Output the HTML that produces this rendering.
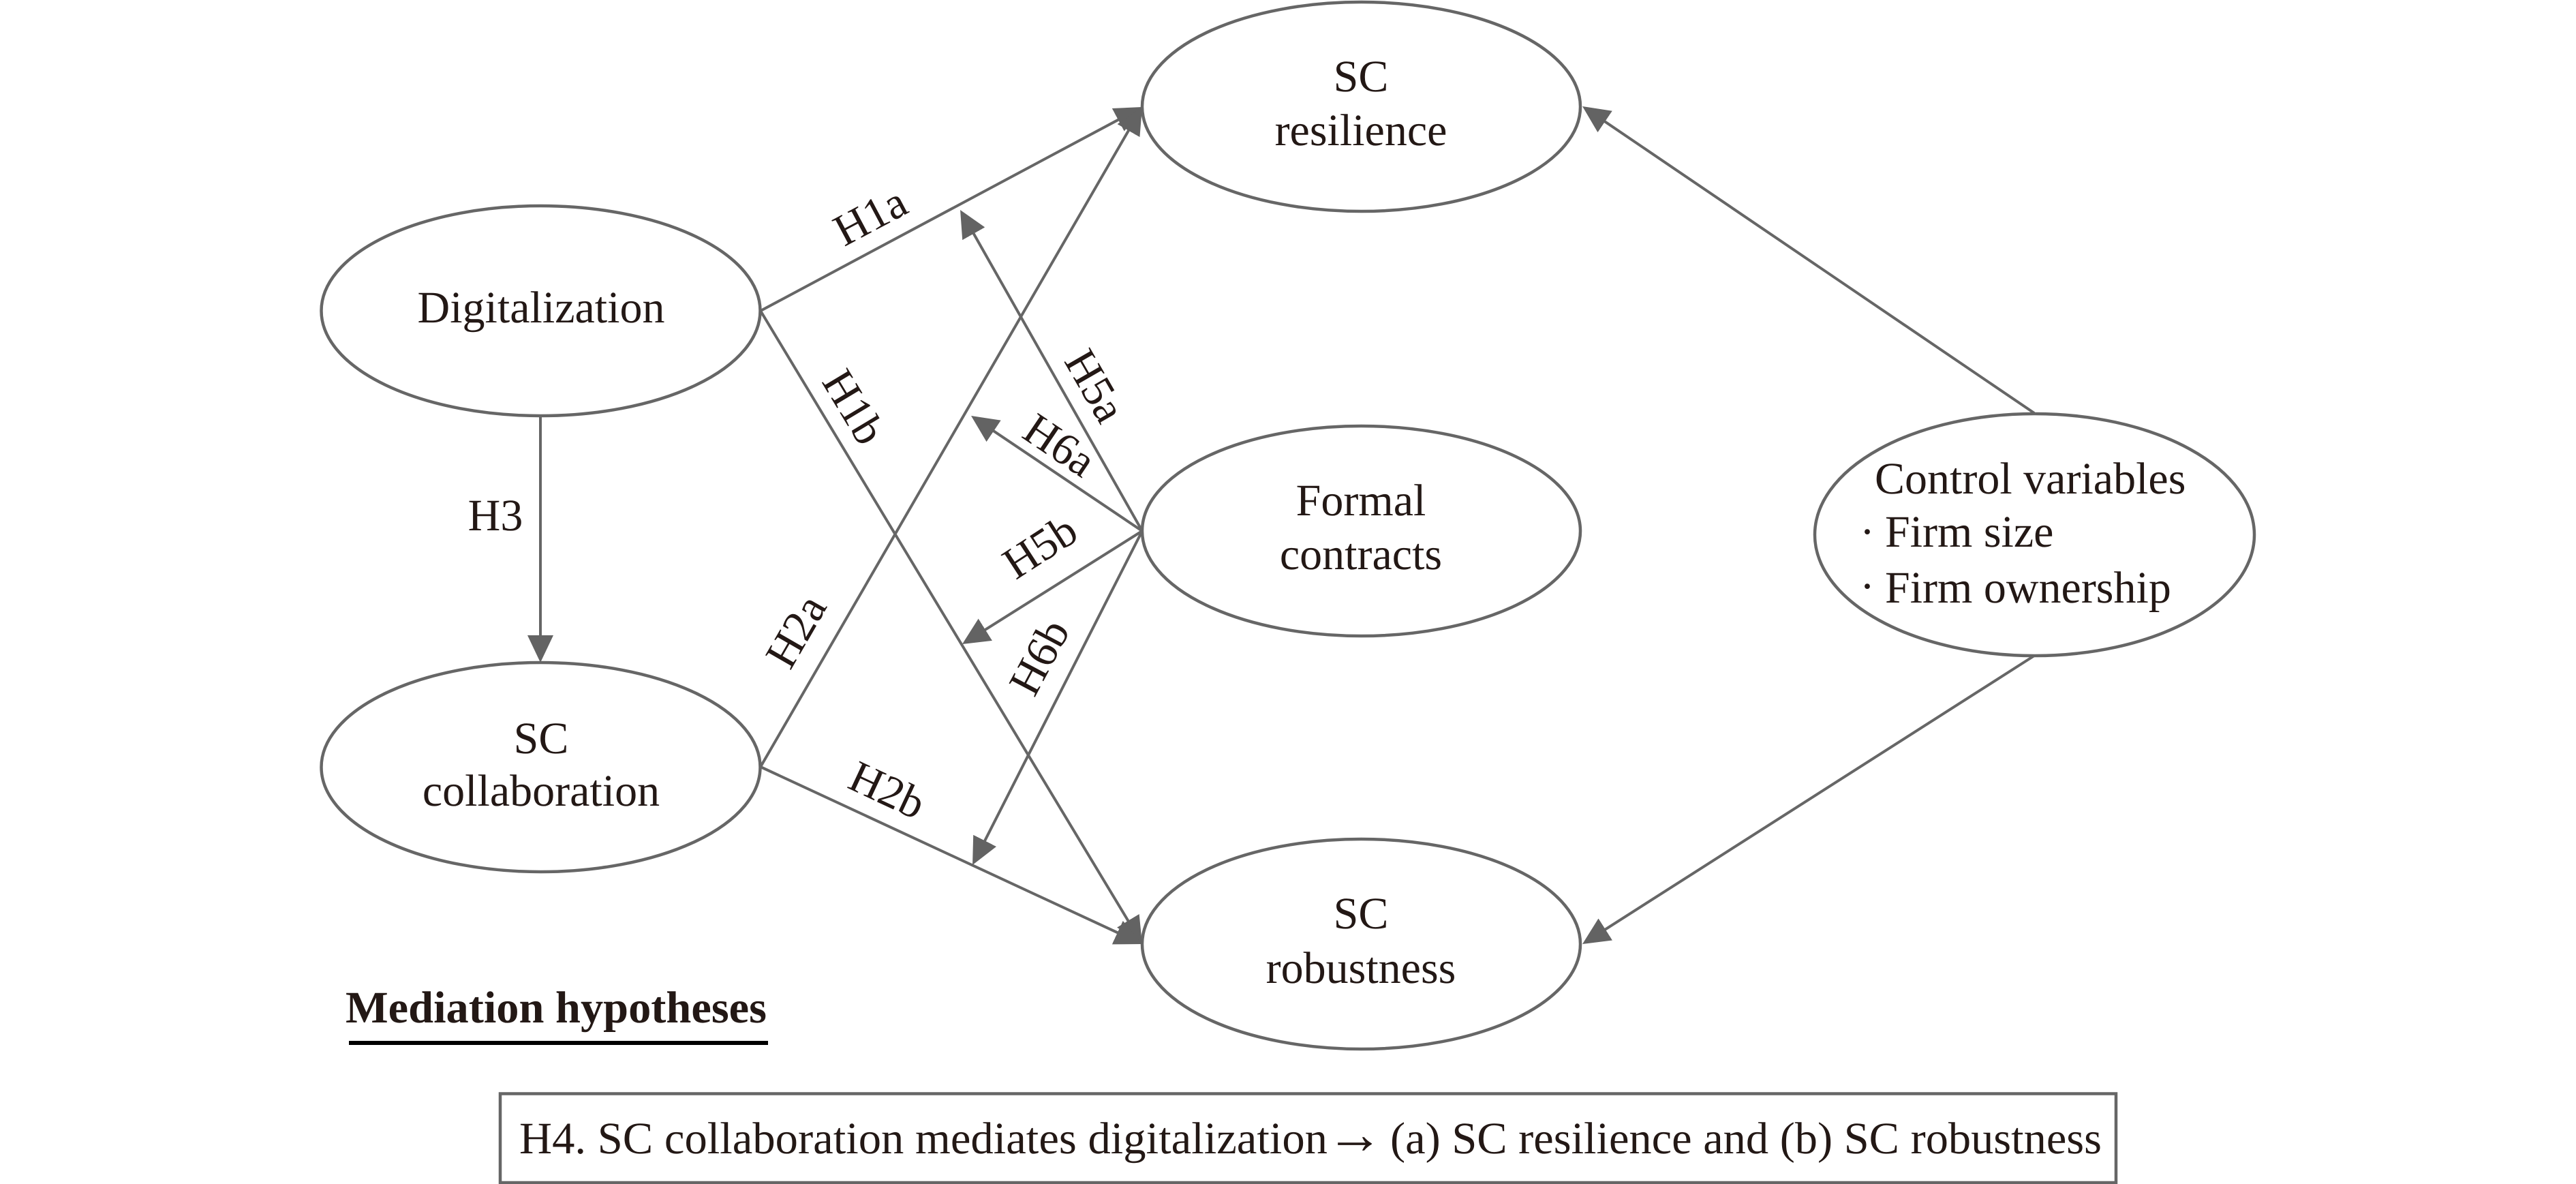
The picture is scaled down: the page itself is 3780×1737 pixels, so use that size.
<!DOCTYPE html>
<html>
<head>
<meta charset="utf-8">
<style>
html,body{margin:0;padding:0;background:#fff;width:3780px;height:1737px;overflow:hidden}
svg{display:block}
text{font-family:"Liberation Serif",serif;font-size:66px;fill:#231815;text-rendering:geometricPrecision;font-kerning:none}
.m{text-anchor:middle}
.e{fill:none;stroke:#666;stroke-width:4.5}
.l{fill:none;stroke:#666;stroke-width:4}
</style>
</head>
<body>
<svg width="3780" height="1737" viewBox="0 0 3780 1737" xmlns="http://www.w3.org/2000/svg">
<defs>
<marker id="a" markerUnits="userSpaceOnUse" markerWidth="40" markerHeight="38" viewBox="0 0 40 38" refX="20" refY="19" orient="auto">
<path d="M0 0L40 19L0 38Z" fill="#636363"/>
</marker>
</defs>
<ellipse class="e" cx="793.5" cy="456" rx="322" ry="154"/>
<ellipse class="e" cx="793.5" cy="1125.5" rx="322" ry="153.5"/>
<ellipse class="e" cx="1997.5" cy="156.5" rx="321.5" ry="153.5"/>
<ellipse class="e" cx="1997.5" cy="779" rx="321.5" ry="154"/>
<ellipse class="e" cx="1997.5" cy="1385" rx="321.5" ry="154"/>
<ellipse class="e" cx="2985.5" cy="784.5" rx="322.5" ry="177.5"/>
<rect class="e" x="734" y="1604.5" width="2371" height="130.5"/>
<g class="l">
<line x1="1116" y1="456" x2="1658.4" y2="166.4" marker-end="url(#a)"/>
<line x1="1116" y1="456" x2="1665.7" y2="1367.9" marker-end="url(#a)"/>
<line x1="1116" y1="1125" x2="1666" y2="174.3" marker-end="url(#a)"/>
<line x1="1116" y1="1125" x2="1657.9" y2="1376.6" marker-end="url(#a)"/>
<line x1="793" y1="610" x2="793" y2="952" marker-end="url(#a)"/>
<line x1="1676" y1="779" x2="1418.9" y2="325.4" marker-end="url(#a)"/>
<line x1="1676" y1="779" x2="1441.6" y2="621.2" marker-end="url(#a)"/>
<line x1="1676" y1="779" x2="1428.9" y2="934.4" marker-end="url(#a)"/>
<line x1="1676" y1="779" x2="1436.1" y2="1251.2" marker-end="url(#a)"/>
<line x1="2985" y1="606" x2="2338.6" y2="167.2" marker-end="url(#a)"/>
<line x1="2985" y1="962" x2="2338.9" y2="1374.2" marker-end="url(#a)"/>
</g>

<text class="m" x="794" y="473">Digitalization</text>
<text class="m" x="794" y="1105">SC</text>
<text class="m" x="794" y="1182">collaboration</text>
<text class="m" x="1997" y="134">SC</text>
<text class="m" x="1997" y="213">resilience</text>
<text class="m" x="1997" y="756">Formal</text>
<text class="m" x="1997" y="835">contracts</text>
<text class="m" x="1997" y="1362">SC</text>
<text class="m" x="1997" y="1442">robustness</text>
<text x="2751" y="724">Control variables</text>
<text class="m" x="2740" y="802">·</text>
<text x="2766" y="802">Firm size</text>
<text class="m" x="2740" y="882">·</text>
<text x="2766" y="884">Firm ownership</text>
<text class="m" x="727" y="778">H3</text>

<text class="m" transform="translate(1277,317) rotate(-28)" y="22">H1a</text>
<text class="m" transform="translate(1253,597) rotate(59)" y="22">H1b</text>
<text class="m" transform="translate(1607,566) rotate(60)" y="22">H5a</text>
<text class="m" transform="translate(1555,653) rotate(34)" y="22">H6a</text>
<text class="m" transform="translate(1526,802) rotate(-33)" y="22">H5b</text>
<text class="m" transform="translate(1525,964) rotate(-62)" y="22">H6b</text>
<text class="m" transform="translate(1168,926) rotate(-60)" y="22">H2a</text>
<text class="m" transform="translate(1302,1159) rotate(25)" y="22">H2b</text>

<text x="507" y="1500" font-weight="bold" textLength="618" lengthAdjust="spacingAndGlyphs">Mediation hypotheses</text>
<rect x="512" y="1527" width="615" height="6" fill="#000"/>
<text x="762" y="1692" textLength="1186" lengthAdjust="spacingAndGlyphs">H4. SC collaboration mediates digitalization</text>
<text x="1946" y="1692" style="font-size:84px">→</text>
<text x="2040" y="1692" textLength="1044" lengthAdjust="spacingAndGlyphs">(a) SC resilience and (b) SC robustness</text>
</svg>
</body>
</html>
